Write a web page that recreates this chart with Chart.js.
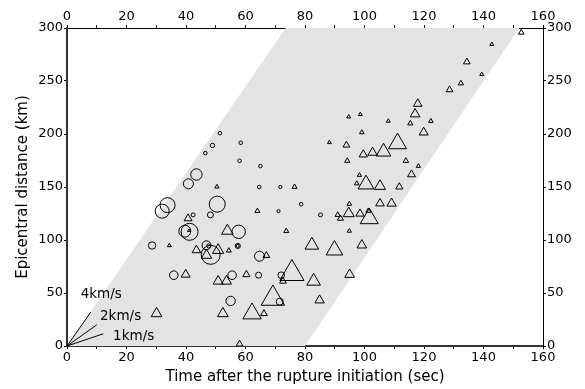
<!DOCTYPE html>
<html><head><meta charset="utf-8">
<script src="https://cdn.jsdelivr.net/npm/chart.js@4/dist/chart.umd.min.js"></script>
<style>html,body{margin:0;padding:0;background:#fff}#wrap{width:585px;height:389px}</style>
</head><body><div id="wrap"><canvas id="c" width="585" height="389"></canvas></div>
<script>
// ---- data ----
const circleTime = [51.4,48.9,58.4,46.5,58.0,65.0,43.5,40.8,64.6,71.7,33.8,32.0,42.4,48.2,50.5,71.1,78.7,85.2,39.6,41.2,57.7,28.6,46.9,47.6,48.3,57.4,57.4,64.7,35.9,55.5,64.4,72.0,55.0,71.5];
const circleDist = [200.8,189.2,191.7,182,174.7,169.7,161.8,153,150,150,132.9,127.2,123.7,123.7,133.8,127.2,133.8,123.7,108.3,107.7,107.7,94.8,95,94.4,86,94.4,94.4,84.7,66.8,66.8,66.8,66.8,42.5,41.8];
const circleSize = [1.8,2.2,1.8,1.8,1.8,1.8,5.7,5,1.8,1.6,7.5,7,2,3,8,1.6,1.8,2,6,8.5,6.7,3.7,4.5,2,9.5,2.6,1.5,5,4.3,4.3,3,3.3,4.7,3.5];

const triTime = [152.7,142.8,134.4,139.4,132.4,128.6,117.9,117.0,94.7,98.6,108.0,115.4,122.3,119.9,99.1,88.2,93.9,111.1,99.6,102.7,106.4,94.2,113.9,118.1,115.8,98.3,97.4,100.5,105.2,111.7,76.5,50.4,94.9,105.2,109.1,64.0,91.0,91.9,94.7,98.5,101.3,101.6,40.7,73.7,94.9,41.0,53.9,34.4,43.5,46.9,50.8,54.4,67.0,82.3,89.9,99.1,39.9,50.8,53.6,60.3,72.6,75.6,82.9,95.0,84.9,69.2,30.1,52.4,62.2,66.2,58.0];
const triDist = [295.7,284.6,268,256.3,247.8,241.7,228.5,218.8,216.2,218.5,212.2,210,212.2,201.5,201.5,192,189.5,191,180.6,182.5,183.2,174.7,174.7,169.7,161.8,161.2,153.3,152.5,150.8,150.1,150.1,150.2,134,134.5,134.5,127.3,123.7,120.3,125,124.8,127.5,120.3,120.3,108.5,108.5,108.8,108.6,94.8,90.4,85.6,90.4,90,85.4,95.1,90.4,95.1,67.4,61.1,61.1,67.4,61.1,68.4,61.1,67.4,43.2,44.8,30.6,30.6,30.6,30.6,1.8];
const triSize = [3.3,2.3,3.9,2.3,3.1,3.9,5,5.6,2.3,2.3,2.3,3,2.7,5.2,2.7,2.3,3.9,10.4,4.8,5.4,8.5,3,3.2,2.5,4.6,2.5,2.7,9.2,6.4,4.2,2.9,2.5,2.7,5,5.4,2.9,3.1,3.5,6.4,4.8,2.9,10.4,4.6,2.9,2.5,1.8,6.7,2.3,5,6,6.5,2.9,3.9,7.9,9.6,5.6,5.2,5.8,5.8,4.2,3.9,14,7.9,5.6,5.4,13.5,6.2,6.2,10.6,3.9,3.9];

const zoneTime = [0, 80, 152, 73.5, 0];
const zoneDist = [0, 0, 300, 300, 0];

const speedLabels = ['4km/s', '2km/s', '1km/s'];
const speedEndTime = [8, 10, 12.2];
const speedEndDist = [32, 20, 11.5];
const speedLabelTime = [4.6, 11.1, 15.5];
const speedLabelDist = [48.5, 27.4, 9.3];

const xTicksMajor = 20, xTicksMinor = 10, yTicksStep = 50;
const xMax = 160, yMax = 300;

// ---- chart ----
const FAMILY = "'DejaVu Sans', sans-serif";
Chart.defaults.font.family = FAMILY;
Chart.defaults.color = '#000';
const tickFont = {size: 13};

const pts = (xs, ys, rs) => xs.map((x, i) => rs ? {x, y: ys[i], r: rs[i]} : {x, y: ys[i]});

const speedDatasets = speedEndTime.map((t, i) => ({
  type: 'line', data: [{x: 0, y: 0}, {x: t, y: speedEndDist[i]}],
  borderColor: '#000', borderWidth: 1, pointRadius: 0, fill: false, order: 5
}));

const labelPlugin = {
  id: 'speedLabels',
  afterDatasetsDraw(chart) {
    const {ctx, scales: {x, y}} = chart;
    ctx.save();
    ctx.font = "13.5px " + FAMILY;
    ctx.fillStyle = '#000';
    ctx.textAlign = 'left';
    ctx.textBaseline = 'middle';
    speedLabels.forEach((s, i) => {
      ctx.fillText(s, x.getPixelForValue(speedLabelTime[i]), y.getPixelForValue(speedLabelDist[i]));
    });
    ctx.restore();
  }
};

const xAxis = (pos, h, bw, bc, title) => ({
  type: 'linear', position: pos, min: 0, max: xMax,
  afterFit: s => { s.height = h; },
  ticks: {stepSize: xTicksMinor, autoSkip: false, maxRotation: 0, padding: 1, font: tickFont,
    callback: v => (v % xTicksMajor === 0 ? String(v) : '')},
  grid: {drawOnChartArea: false, drawTicks: true, tickLength: 3, tickColor: '#000', tickWidth: 1},
  border: {display: true, color: bc, width: bw},
  title: title ? {display: true, text: title, font: {size: 15}, padding: {top: 0, bottom: 3}} : {display: false}
});
const yAxis = (pos, w, bw, bc, title) => ({
  type: 'linear', position: pos, min: 0, max: yMax,
  afterFit: s => { s.width = w; },
  ticks: {stepSize: yTicksStep, autoSkip: false, padding: 1, font: tickFont},
  grid: {drawOnChartArea: false, drawTicks: true, tickLength: 3, tickColor: '#000', tickWidth: 1},
  border: {display: true, color: bc, width: bw},
  title: title ? {display: true, text: title, font: {size: 15}, padding: {top: 14, bottom: 0}} : {display: false}
});

new Chart(document.getElementById('c'), {
  type: 'bubble',
  data: {
    datasets: [
      {type: 'line', data: pts(zoneTime, zoneDist), fill: 'shape', backgroundColor: '#e3e3e3',
       borderWidth: 0, borderColor: 'rgba(0,0,0,0)', pointRadius: 0, order: 10},
      ...speedDatasets,
      {label: 'circles', data: pts(circleTime, circleDist, circleSize), pointStyle: 'circle',
       backgroundColor: 'rgba(0,0,0,0)', borderColor: '#000', borderWidth: 1, order: 1},
      {label: 'triangles', data: pts(triTime, triDist, triSize), pointStyle: 'triangle',
       backgroundColor: 'rgba(0,0,0,0)', borderColor: '#000', borderWidth: 1, order: 0}
    ]
  },
  options: {
    responsive: false, animation: false, devicePixelRatio: 1, events: [],
    layout: {padding: 0},
    plugins: {legend: {display: false}, tooltip: {enabled: false}},
    scales: {
      x: xAxis('bottom', 43, 2, '#333', 'Time after the rupture initiation (sec)'),
      x2: xAxis('top', 28, 1, '#000', null),
      y: yAxis('left', 67, 2, '#333', 'Epicentral distance (km)'),
      y2: yAxis('right', 42, 1, '#000', null)
    }
  },
  plugins: [labelPlugin]
});
</script></body></html>
